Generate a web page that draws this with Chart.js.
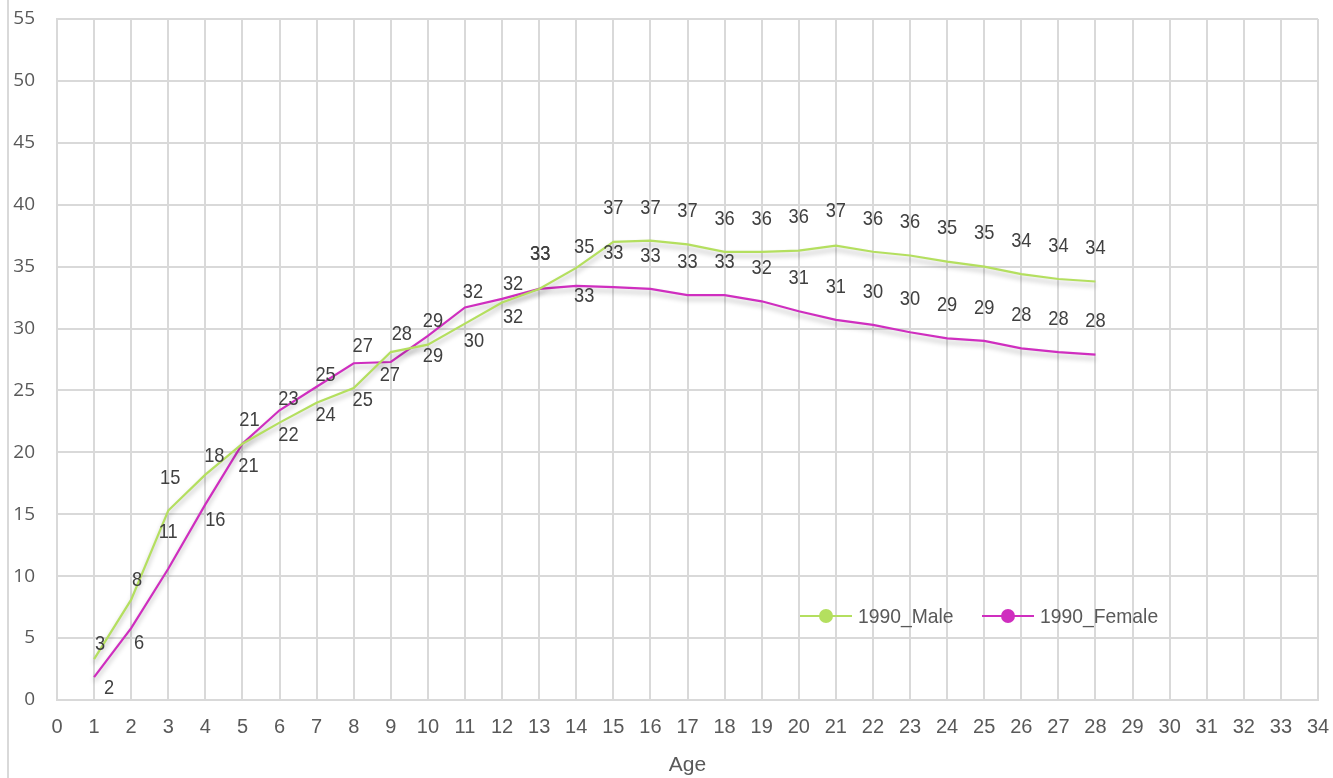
<!DOCTYPE html>
<html>
<head>
<meta charset="utf-8">
<script src="https://cdn.jsdelivr.net/npm/chart.js@4.4.1/dist/chart.umd.min.js"></script>
<style>
  html, body { margin: 0; padding: 0; background: #fff; }
  #wrap { position: relative; width: 1333px; height: 778px; }
</style>
</head>
<body>
<div id="wrap"><canvas id="ageChart" width="1333" height="778"></canvas></div>
<script>
// ages 1..28 and the two 1990 series
const ages = [1, 2, 3, 4, 5, 6, 7, 8, 9, 10, 11, 12, 13, 14, 15, 16, 17, 18, 19, 20, 21, 22, 23, 24, 25, 26, 27, 28];
const male1990 = [3.3, 8.1, 15.3, 18.2, 20.7, 22.4, 24.0, 25.2, 28.1, 28.7, 30.4, 32.1, 33.2, 34.9, 37.0, 37.1, 36.8, 36.2, 36.2, 36.3, 36.7, 36.2, 35.9, 35.4, 35.0, 34.4, 34.0, 33.8];
const female1990 = [1.85, 5.8, 10.6, 15.8, 20.7, 23.4, 25.3, 27.2, 27.3, 29.4, 31.7, 32.4, 33.2, 33.45, 33.35, 33.2, 32.7, 32.7, 32.2, 31.4, 30.7, 30.3, 29.7, 29.2, 29.0, 28.4, 28.1, 27.9];
const seriesNames = ['1990_Male', '1990_Female'];

// nudges for the value labels (px, negative dy = above the point)
const maleLabelDy = [-15, -20, -32, -18, -23, 13, 12, 12, -18, 12, 18, 15, -35, -21, -34, -32, -33, -33, -33, -33, -34, -33, -33, -33, -33, -33, -33, -33];
const femaleLabelDy = [11, 15, -37, 16, 23, -11, -12, -17, 13, -15, -15, -15, -35, 10, -34, -33, -33, -33, -33, -33, -33, -33, -33, -33, -33, -33, -33, -33];
const maleLabelDx = [6, 6, 2, 9, 7, 9, 9, 9, 11, 5, 9, 11, 1, 8, 0, 0, 0, 0, 0, 0, 0, 0, 0, 0, 0, 0, 0, 0];
const femaleLabelDx = [15, 8, 0, 10, 6, 9, 9, 9, -1, 5, 8, 11, 1, 8, 0, 0, 0, 0, 0, 0, 0, 0, 0, 0, 0, 0, 0, 0];

const GREEN = '#b4df5f';
const MAGENTA = '#cf2ebf';
const GRID = '#d9d9d9';
const TEXT = '#595959';
const SANS = '"Liberation Sans", Arial, sans-serif';

const toPoints = vals => vals.map((v, i) => ({ x: ages[i], y: v }));

// squeezed text, the labels are a touch narrower than the plain face
function narrowText(ctx, text, x, y, sx) {
  ctx.save();
  ctx.translate(x, y);
  ctx.scale(sx, 1);
  ctx.fillText(text, 0, 0);
  ctx.restore();
}

// soft drop shadow under each line
const lineShadow = {
  id: 'lineShadow',
  beforeDatasetDraw(chart) {
    const ctx = chart.ctx;
    ctx.save();
    ctx.shadowColor = 'rgba(0,0,0,0.28)';
    ctx.shadowBlur = 5;
    ctx.shadowOffsetY = 4;
  },
  afterDatasetDraw(chart) {
    chart.ctx.restore();
  }
};

// rounded values written next to each point
const valueLabels = {
  id: 'valueLabels',
  afterDatasetsDraw(chart) {
    const ctx = chart.ctx;
    const offsets = [[maleLabelDx, maleLabelDy], [femaleLabelDx, femaleLabelDy]];
    ctx.save();
    ctx.font = '21px ' + SANS;
    ctx.fillStyle = '#404040';
    ctx.textAlign = 'center';
    ctx.textBaseline = 'middle';
    chart.data.datasets.forEach((ds, di) => {
      const meta = chart.getDatasetMeta(di);
      meta.data.forEach((pt, i) => {
        const v = ds.data[i].y;
        narrowText(ctx, String(Math.round(v)), pt.x + offsets[di][0][i], pt.y + offsets[di][1][i], 0.87);
      });
    });
    ctx.restore();
  }
};

// frame edge on the left and the line+dot legend inside the plot
const decor = {
  id: 'decor',
  beforeDraw(chart) {
    const ctx = chart.ctx;
    ctx.save();
    ctx.fillStyle = '#fff';
    ctx.fillRect(0, 0, chart.width, chart.height);
    ctx.strokeStyle = GRID;
    ctx.lineWidth = 2;
    ctx.beginPath();
    ctx.moveTo(8, 0);
    ctx.lineTo(8, chart.height);
    ctx.stroke();
    ctx.restore();
  },
  afterDraw(chart) {
    const ctx = chart.ctx;
    const y = 616;
    const items = [
      { x: 800, color: GREEN, text: seriesNames[0] },
      { x: 982, color: MAGENTA, text: seriesNames[1] }
    ];
    ctx.save();
    ctx.font = '21px ' + SANS;
    ctx.textBaseline = 'middle';
    items.forEach(it => {
      ctx.strokeStyle = it.color;
      ctx.lineWidth = 2;
      ctx.beginPath();
      ctx.moveTo(it.x, y);
      ctx.lineTo(it.x + 52, y);
      ctx.stroke();
      ctx.fillStyle = it.color;
      ctx.beginPath();
      ctx.arc(it.x + 26, y, 7, 0, Math.PI * 2);
      ctx.fill();
      ctx.fillStyle = TEXT;
      narrowText(ctx, it.text, it.x + 58, y + 1, 0.92);
    });
    ctx.restore();
  }
};

new Chart(document.getElementById('ageChart'), {
  type: 'line',
  data: {
    datasets: [
      {
        label: seriesNames[0],
        data: toPoints(male1990),
        borderColor: GREEN,
        backgroundColor: GREEN,
        borderWidth: 2.2,
        pointRadius: 0,
        fill: false,
        tension: 0
      },
      {
        label: seriesNames[1],
        data: toPoints(female1990),
        borderColor: MAGENTA,
        backgroundColor: MAGENTA,
        borderWidth: 2.2,
        pointRadius: 0,
        fill: false,
        tension: 0
      }
    ]
  },
  options: {
    responsive: false,
    animation: false,
    layout: { padding: { top: 19, right: 15, left: 0, bottom: 0 } },
    plugins: {
      legend: { display: false },
      tooltip: { enabled: false }
    },
    scales: {
      x: {
        type: 'linear',
        min: 0,
        max: 34,
        afterFit(scale) {
          scale.height = 78;
          scale.paddingLeft = 0;
          scale.paddingRight = 0;
        },
        grid: { color: GRID, lineWidth: 2, drawTicks: false },
        border: { color: GRID, width: 2 },
        ticks: {
          stepSize: 1,
          autoSkip: false,
          maxRotation: 0,
          padding: 15,
          color: TEXT,
          font: { family: SANS, size: 20 }
        },
        title: {
          display: true,
          text: 'Age',
          color: TEXT,
          font: { family: SANS, size: 21 },
          padding: { top: 0, bottom: 0 }
        }
      },
      y: {
        min: 0,
        max: 55,
        afterFit(scale) {
          scale.width = 57;
          scale.paddingTop = 0;
          scale.paddingBottom = 0;
        },
        grid: { color: GRID, lineWidth: 2, drawTicks: false },
        border: { color: GRID, width: 2 },
        ticks: {
          stepSize: 5,
          padding: 22,
          color: TEXT,
          font: { family: '"Open Sans", sans-serif', size: 19 }
        }
      }
    }
  },
  plugins: [decor, lineShadow, valueLabels]
});
</script>
</body>
</html>
